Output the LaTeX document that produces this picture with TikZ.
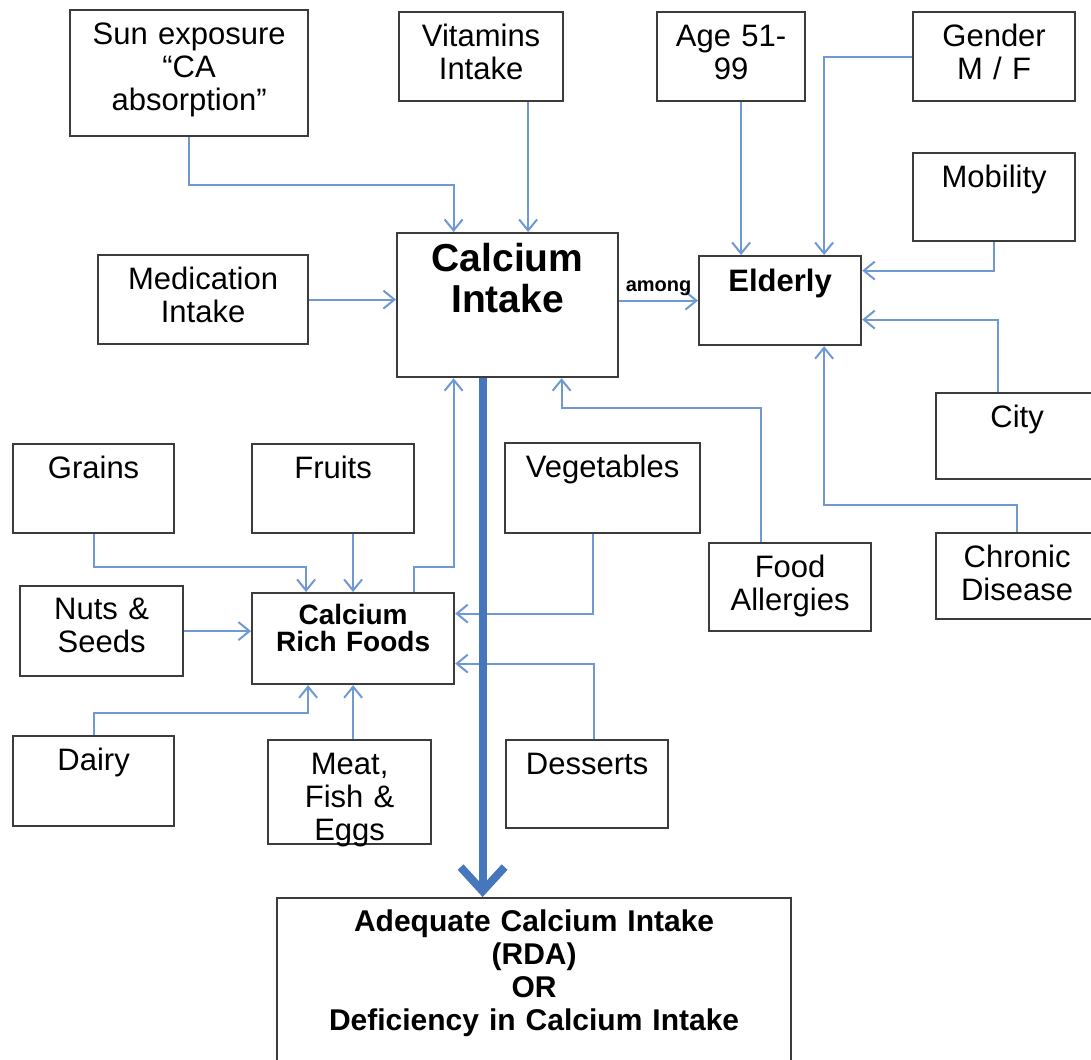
\documentclass[tikz,border=0pt]{standalone}
\usepackage{fontspec}
\setmainfont{Liberation Sans}
\usepackage{tikz}
\usetikzlibrary{positioning,arrows.meta}
\definecolor{boxgray}{RGB}{60,60,60}
\definecolor{lineblue}{RGB}{110,153,212}
\definecolor{mainblue}{RGB}{70,118,188}

\begin{document}
\begin{tikzpicture}[
  x=1pt, y=-1pt,
  box/.style={draw=boxgray,line width=2.2pt,anchor=north west,inner sep=0pt,align=center,
              text height=34pt,font=\fontsize{31}{33}\selectfont},
  bbox/.style={box,font=\bfseries\fontsize{31}{33}\selectfont},
  conn/.style={draw=lineblue,line width=2pt,-{Straight Barb[length=11pt,width=18pt]}},
  main/.style={draw=mainblue,line width=8pt,-{Straight Barb[length=24pt,width=44pt]}},
]
\fill[white] (0,0) rectangle (1091,1059);
\useasboundingbox (0,0) rectangle (1091,1059);
% top row
\node[box,text width=238pt,text depth=92pt] (sun) at (69,9) {Sun exposure\\“CA\\absorption"};
\node[box,text width=164pt,text depth=55pt] (vit) at (398,11) {Vitamins\\Intake};
\node[box,text width=148pt,text depth=55pt] (age) at (656,11) {Age 51-\\99};
\node[box,text width=162pt,text depth=55pt] (gen) at (912,11) {Gender\\M / F};
\node[box,text width=162pt,text depth=54pt] (mob) at (912,152) {Mobility};
% centre
\node[bbox,text width=221pt,text height=38pt,text depth=106pt,font=\bfseries\fontsize{39}{41}\selectfont] (cal) at (396,232) {Calcium\\Intake};
\node[box,text width=210pt,text depth=55pt] (med) at (97,254) {Medication\\Intake};
\node[bbox,text width=162pt,text height=35pt,text depth=54pt] (eld) at (698,255) {Elderly};
\node[box,text width=162pt,text depth=52pt] (city) at (935,392) {City};
\node[box,text width=162pt,text depth=52pt] (chr) at (935,532) {Chronic\\Disease};
% foods
\node[box,text width=161pt,text depth=55pt] (grn) at (12,443) {Grains};
\node[box,text width=162pt,text depth=55pt] (fru) at (251,443) {Fruits};
\node[box,text width=195pt,text depth=56pt] (veg) at (504,442) {Vegetables};
\node[box,text width=162pt,text depth=54pt] (fa) at (708,542) {Food\\Allergies};
\node[box,text width=163pt,text height=33pt,text depth=57pt] (nut) at (19,585) {Nuts \&\\Seeds};
\node[bbox,text width=202pt,text height=31pt,text depth=60pt,font=\bfseries\fontsize{28}{27}\selectfont] (crf) at (251,592) {Calcium\\Rich Foods};
\node[box,text width=161pt,text depth=56pt] (dai) at (12,735) {Dairy};
\node[box,text width=163pt,text depth=70pt] (meat) at (267,739) {Meat,\\Fish \&\\Eggs};
\node[box,text width=162pt,text depth=54pt] (des) at (505,739) {Desserts};
\node[bbox,text width=514pt,text height=33pt,text depth=137pt,font=\bfseries\fontsize{30}{33}\selectfont] (res) at (276,897)
  {Adequate Calcium Intake\\(RDA)\\OR\\Deficiency in Calcium Intake};
% into calcium intake
\draw[conn] (sun.south) -- ++(0,48) -| ([xshift=-54pt]cal.north);
\draw[conn] ([xshift=47pt]vit.south) -- ([xshift=47pt]vit.south |- cal.north);
\draw[conn] (med.east) -- (med.east -| cal.west);
\draw[conn] (cal.east |- eld.west) -- node[above=1pt,font=\bfseries\fontsize{20}{22}\selectfont]{among} (eld.west);
\draw[conn] ([xshift=61pt]crf.north) -- ++(0,-25) -| ([xshift=-54pt]cal.south);
\draw[conn] ([xshift=-29pt]fa.north) -- ++(0,-134) -| ([xshift=54pt]cal.south);
% into elderly
\draw[conn] ([xshift=10pt]age.south) -- ([xshift=10pt]age.south |- eld.north);
\draw[conn] (gen.west) -| ([xshift=44pt]eld.north);
\draw[conn] (mob.south) |- ([yshift=30pt]eld.east);
\draw[conn] ([xshift=-19pt]city.north) |- ([yshift=-19pt]eld.east);
\draw[conn] (chr.north) -- ++(0,-27) -| ([xshift=44pt]eld.south);
% into calcium rich foods
\draw[conn] (grn.south) -- ++(0,33) -| ([xshift=-47pt]crf.north);
\draw[conn] (crf.north |- fru.south) -- (crf.north);
\draw[conn] (nut.east) -- (nut.east -| crf.west);
\draw[conn] ([xshift=-10pt]veg.south) |- ([yshift=25pt]crf.east);
\draw[conn] ([xshift=7pt]des.north) |- ([yshift=-25pt]crf.east);
\draw[conn] (dai.north) -- ++(0,-22) -| ([xshift=-45pt]crf.south);
\draw[conn] (crf.south |- meat.north) -- (crf.south);
% outcome
\draw[main] ([xshift=-25pt]cal.south) -- ([xshift=-25pt]cal.south |- res.north);
\end{tikzpicture}
\end{document}
